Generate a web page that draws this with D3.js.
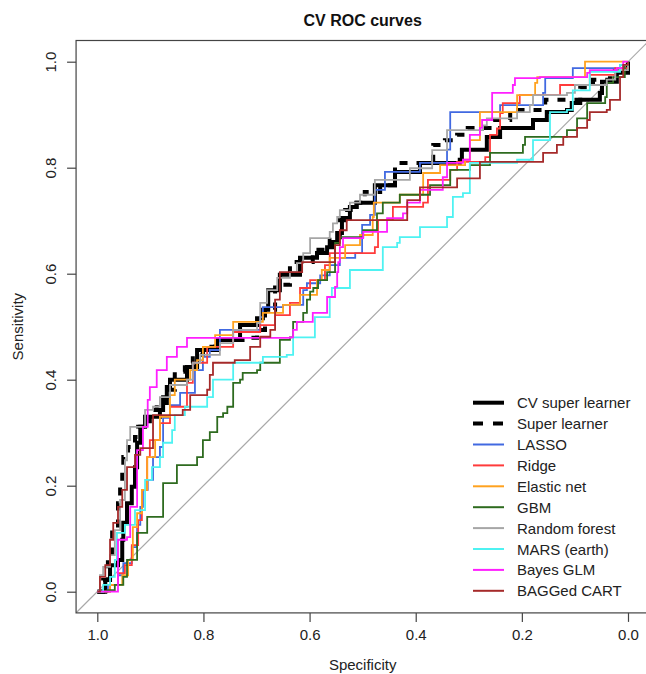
<!DOCTYPE html>
<html>
<head>
<meta charset="utf-8">
<script src="https://cdn.jsdelivr.net/npm/d3@7/dist/d3.min.js"></script>
<style>
  body { margin: 0; background: #fff; }
  text { font-family: "Liberation Sans", Arial, sans-serif; }
</style>
</head>
<body>
<div id="chart"></div>
<script>

// curves as [specificity, sensitivity] corner points
var cvSuperLearner = [[1,0],[0.985,0.022],[0.976,0.05],[0.961,0.06],[0.953,0.098],[0.951,0.13],[0.944,0.167],[0.935,0.198],[0.929,0.235],[0.925,0.281],[0.919,0.311],[0.91,0.33],[0.882,0.343],[0.876,0.367],[0.869,0.386],[0.863,0.4],[0.831,0.424],[0.812,0.456],[0.774,0.475],[0.731,0.503],[0.699,0.516],[0.688,0.532],[0.678,0.569],[0.656,0.598],[0.618,0.63],[0.586,0.639],[0.567,0.65],[0.556,0.66],[0.548,0.677],[0.539,0.705],[0.524,0.726],[0.511,0.734],[0.477,0.767],[0.439,0.792],[0.392,0.809],[0.317,0.815],[0.313,0.834],[0.266,0.858],[0.241,0.875],[0.19,0.875],[0.179,0.89],[0.153,0.905],[0.115,0.909],[0.106,0.922],[0.09,0.928],[0.053,0.941],[0.049,0.962],[0.021,0.979],[0,1]];

var superLearner = [[1,0],[0.989,0.022],[0.98,0.06],[0.972,0.116],[0.961,0.167],[0.957,0.198],[0.953,0.23],[0.951,0.254],[0.942,0.273],[0.929,0.292],[0.923,0.311],[0.901,0.343],[0.888,0.356],[0.869,0.381],[0.854,0.415],[0.835,0.432],[0.82,0.447],[0.801,0.462],[0.778,0.475],[0.718,0.479],[0.699,0.494],[0.684,0.532],[0.665,0.579],[0.637,0.622],[0.594,0.645],[0.562,0.664],[0.543,0.701],[0.533,0.72],[0.518,0.734],[0.496,0.754],[0.467,0.767],[0.439,0.809],[0.367,0.843],[0.345,0.852],[0.322,0.862],[0.302,0.875],[0.254,0.89],[0.222,0.909],[0.156,0.928],[0.09,0.952],[0.066,0.966],[0.034,0.984],[0,1]];

var lasso = [[1,0],[0.98,0.013],[0.961,0.031],[0.951,0.054],[0.935,0.084],[0.925,0.126],[0.919,0.16],[0.914,0.192],[0.905,0.211],[0.895,0.254],[0.882,0.273],[0.876,0.328],[0.863,0.352],[0.844,0.375],[0.816,0.418],[0.801,0.443],[0.788,0.456],[0.769,0.494],[0.693,0.518],[0.688,0.537],[0.65,0.541],[0.612,0.569],[0.605,0.582],[0.58,0.597],[0.562,0.616],[0.543,0.63],[0.514,0.639],[0.501,0.692],[0.486,0.711],[0.477,0.758],[0.458,0.792],[0.392,0.809],[0.341,0.834],[0.335,0.905],[0.254,0.905],[0.241,0.918],[0.16,0.941],[0.156,0.969],[0.104,0.988],[0.015,0.994],[0,1]];

var ridge = [[1,0],[0.976,0.013],[0.961,0.035],[0.948,0.05],[0.935,0.088],[0.923,0.135],[0.916,0.192],[0.906,0.254],[0.901,0.286],[0.882,0.318],[0.863,0.349],[0.831,0.394],[0.82,0.432],[0.793,0.462],[0.744,0.49],[0.693,0.503],[0.665,0.522],[0.637,0.545],[0.618,0.573],[0.599,0.588],[0.571,0.616],[0.562,0.639],[0.477,0.65],[0.471,0.701],[0.454,0.701],[0.443,0.726],[0.386,0.734],[0.377,0.777],[0.335,0.796],[0.322,0.811],[0.269,0.82],[0.26,0.862],[0.247,0.874],[0.241,0.903],[0.236,0.922],[0.204,0.937],[0.128,0.956],[0.072,0.975],[0.024,0.988],[0,1]];

var elasticNet = [[1,0],[0.976,0.013],[0.953,0.031],[0.942,0.06],[0.933,0.122],[0.925,0.148],[0.916,0.192],[0.906,0.254],[0.891,0.286],[0.882,0.33],[0.863,0.371],[0.854,0.4],[0.825,0.418],[0.812,0.437],[0.801,0.462],[0.778,0.484],[0.744,0.509],[0.693,0.509],[0.688,0.526],[0.65,0.541],[0.618,0.56],[0.586,0.588],[0.577,0.607],[0.562,0.63],[0.533,0.654],[0.505,0.673],[0.481,0.707],[0.479,0.734],[0.43,0.749],[0.386,0.79],[0.354,0.805],[0.307,0.815],[0.298,0.852],[0.279,0.905],[0.209,0.937],[0.175,0.96],[0.171,0.971],[0.09,0.971],[0.081,1],[0,1]];

var gbm = [[1,0],[0.981,0.003],[0.967,0.013],[0.951,0.028],[0.944,0.06],[0.925,0.111],[0.906,0.141],[0.882,0.141],[0.876,0.205],[0.85,0.205],[0.85,0.239],[0.82,0.239],[0.812,0.254],[0.801,0.286],[0.788,0.301],[0.774,0.33],[0.763,0.337],[0.755,0.349],[0.744,0.394],[0.731,0.4],[0.726,0.413],[0.699,0.418],[0.693,0.432],[0.656,0.45],[0.656,0.475],[0.637,0.48],[0.631,0.509],[0.612,0.526],[0.605,0.551],[0.599,0.566],[0.593,0.573],[0.584,0.588],[0.567,0.603],[0.552,0.658],[0.543,0.669],[0.499,0.682],[0.473,0.714],[0.462,0.734],[0.43,0.749],[0.373,0.767],[0.335,0.796],[0.298,0.805],[0.26,0.811],[0.26,0.828],[0.198,0.843],[0.194,0.858],[0.141,0.858],[0.115,0.871],[0.096,0.893],[0.077,0.922],[0.043,0.933],[0.04,0.96],[0.028,0.971],[0.006,0.994],[0,1]];

var randomForest = [[1,0],[0.995,0.031],[0.989,0.047],[0.976,0.069],[0.967,0.116],[0.957,0.173],[0.948,0.248],[0.944,0.286],[0.938,0.311],[0.91,0.343],[0.895,0.349],[0.882,0.367],[0.863,0.39],[0.831,0.4],[0.82,0.432],[0.806,0.447],[0.769,0.469],[0.744,0.494],[0.699,0.507],[0.693,0.545],[0.68,0.569],[0.661,0.592],[0.637,0.603],[0.624,0.62],[0.612,0.639],[0.599,0.667],[0.562,0.679],[0.556,0.695],[0.548,0.707],[0.543,0.72],[0.524,0.734],[0.505,0.749],[0.477,0.777],[0.411,0.799],[0.369,0.833],[0.341,0.871],[0.273,0.88],[0.266,0.893],[0.209,0.905],[0.185,0.918],[0.179,0.937],[0.115,0.941],[0.1,0.956],[0.04,0.966],[0.024,0.984],[0,1]];

var mars = [[1,0],[0.989,0.013],[0.976,0.028],[0.967,0.06],[0.963,0.111],[0.948,0.126],[0.929,0.154],[0.91,0.211],[0.897,0.235],[0.882,0.254],[0.876,0.281],[0.859,0.305],[0.854,0.333],[0.835,0.349],[0.793,0.367],[0.782,0.4],[0.744,0.4],[0.744,0.432],[0.688,0.443],[0.643,0.447],[0.631,0.48],[0.59,0.518],[0.562,0.556],[0.558,0.573],[0.524,0.607],[0.481,0.607],[0.462,0.65],[0.435,0.658],[0.43,0.669],[0.392,0.688],[0.341,0.707],[0.33,0.745],[0.311,0.752],[0.298,0.809],[0.209,0.815],[0.179,0.852],[0.147,0.905],[0.115,0.909],[0.104,0.946],[0.072,0.981],[0.015,0.994],[0,1]];

var bayesGlm = [[1,0],[0.961,0.003],[0.961,0.098],[0.944,0.103],[0.938,0.16],[0.925,0.267],[0.914,0.311],[0.905,0.362],[0.901,0.386],[0.888,0.418],[0.869,0.443],[0.85,0.462],[0.831,0.479],[0.637,0.48],[0.631,0.494],[0.624,0.509],[0.594,0.526],[0.567,0.556],[0.556,0.556],[0.552,0.575],[0.548,0.603],[0.546,0.622],[0.543,0.65],[0.537,0.667],[0.499,0.679],[0.454,0.684],[0.454,0.705],[0.424,0.714],[0.416,0.734],[0.392,0.758],[0.349,0.782],[0.341,0.809],[0.311,0.815],[0.298,0.862],[0.279,0.875],[0.275,0.89],[0.256,0.941],[0.217,0.956],[0.213,0.969],[0.166,0.971],[0.077,0.979],[0.072,0.984],[0.021,0.988],[0.009,1],[0,1]];

var baggedCart = [[1,0],[0.995,0.028],[0.985,0.05],[0.976,0.098],[0.97,0.13],[0.961,0.16],[0.953,0.192],[0.944,0.235],[0.929,0.258],[0.919,0.271],[0.895,0.333],[0.839,0.343],[0.825,0.371],[0.793,0.381],[0.788,0.409],[0.782,0.432],[0.741,0.437],[0.712,0.462],[0.693,0.481],[0.674,0.494],[0.665,0.551],[0.656,0.603],[0.614,0.622],[0.562,0.622],[0.552,0.654],[0.543,0.682],[0.53,0.701],[0.43,0.701],[0.416,0.739],[0.392,0.763],[0.322,0.78],[0.279,0.811],[0.166,0.811],[0.16,0.828],[0.134,0.843],[0.122,0.858],[0.096,0.875],[0.077,0.89],[0.072,0.905],[0.04,0.909],[0.034,0.928],[0.015,0.971],[0.009,0.994],[0,1]];

var curveNames = ["CV super learner", "Super learner", "LASSO", "Ridge", "Elastic net", "GBM", "Random forest", "MARS (earth)", "Bayes GLM", "BAGGed CART"];
var curveData = [cvSuperLearner, superLearner, lasso, ridge, elasticNet, gbm, randomForest, mars, bayesGlm, baggedCart];
var curveColors = ["#000000", "#000000", "#4169e1", "#ff3b3b", "#ffa21f", "#2e6b1f", "#a6a6a6", "#4ef2f2", "#ff1fff", "#a52a2a"];
var xTicks = [1.0, 0.8, 0.6, 0.4, 0.2, 0.0];
var yTicks = [0.0, 0.2, 0.4, 0.6, 0.8, 1.0];

(function() {

  var width = 646, height = 674;
  var axisColor = "#444";
  var fontFam = '"Liberation Sans", Arial, sans-serif';

  var svg = d3.select("#chart").append("svg")
      .attr("width", width)
      .attr("height", height);

  svg.append("rect")
    .attr("width", width)
    .attr("height", height)
    .attr("fill", "#fff");

  var x = d3.scaleLinear().domain([1, 0]).range([97.3, 628]);
  var y = d3.scaleLinear().domain([0, 1]).range([591.7, 61.7]);

  // R pads the range by 4% on every side
  var boxL = x(1.04), boxR = x(-0.04), boxT = y(1.04), boxB = y(-0.04);

  svg.append("clipPath").attr("id", "plotclip")
    .append("rect")
      .attr("x", boxL).attr("y", boxT)
      .attr("width", boxR - boxL).attr("height", boxB - boxT);

  var plot = svg.append("g").attr("clip-path", "url(#plotclip)");

  // chance line
  plot.append("line")
    .attr("x1", x(1.04)).attr("y1", y(-0.04))
    .attr("x2", x(-0.04)).attr("y2", y(1.04))
    .style("stroke", "#a8a8a8")
    .style("stroke-width", 1.2);

  var line = d3.line()
    .x(function(d) { return x(d[0]); })
    .y(function(d) { return y(d[1]); })
    .curve(d3.curveStepAfter);

  curveData.forEach(function(c, i) {
    plot.append("path")
      .attr("d", line(c))
      .style("fill", "none")
      .style("stroke", curveColors[i])
      .style("stroke-width", i < 2 ? 4 : 1.8)
      .style("stroke-dasharray", i == 1 ? "8,9" : null);
  });

  // frame
  svg.append("rect")
    .attr("x", boxL).attr("y", boxT)
    .attr("width", boxR - boxL).attr("height", boxB - boxT)
    .style("fill", "none")
    .style("stroke", axisColor)
    .style("stroke-width", 1.2);

  var xAxis = svg.append("g")
    .attr("transform", "translate(0," + boxB + ")")
    .call(d3.axisBottom(x).tickValues(xTicks).tickFormat(d3.format(".1f")).tickSize(9).tickPadding(7));
  xAxis.select(".domain").remove();
  xAxis.selectAll("line").style("stroke", axisColor).style("stroke-width", 1.2);
  xAxis.selectAll("text").style("font-size", "15px").style("fill", "#222")
    .style("font-family", fontFam);

  var yAxis = svg.append("g")
    .attr("transform", "translate(" + boxL + ",0)")
    .call(d3.axisLeft(y).tickValues(yTicks).tickFormat(d3.format(".1f")).tickSize(9));
  yAxis.select(".domain").remove();
  yAxis.selectAll("line").style("stroke", axisColor).style("stroke-width", 1.2);
  yAxis.selectAll("text")
    .attr("x", null).attr("dy", null)
    .attr("transform", "translate(-20,0) rotate(-90)")
    .style("text-anchor", "middle")
    .style("font-size", "15px").style("fill", "#222")
    .style("font-family", fontFam);

  svg.append("text")
    .attr("x", (boxL + boxR) / 2).attr("y", 26)
    .style("text-anchor", "middle")
    .style("font-size", "16px")
    .style("font-weight", "bold")
    .style("fill", "#111")
    .text("CV ROC curves");

  svg.append("text")
    .attr("x", (boxL + boxR) / 2).attr("y", 670)
    .style("text-anchor", "middle")
    .style("font-size", "15px")
    .style("fill", "#222")
    .text("Specificity");

  svg.append("text")
    .attr("transform", "translate(23," + (boxT + boxB) / 2 + ") rotate(-90)")
    .style("text-anchor", "middle")
    .style("font-size", "15px")
    .style("fill", "#222")
    .text("Sensitivity");

  // legend
  var legend = svg.append("g");
  curveNames.forEach(function(name, i) {
    var ly = 402.7 + i * 20.9;
    legend.append("line")
      .attr("x1", 473).attr("x2", 504)
      .attr("y1", ly).attr("y2", ly)
      .style("stroke", curveColors[i])
      .style("stroke-width", i < 2 ? 4 : 2)
      .style("stroke-dasharray", i == 1 ? "10,10" : null);
    legend.append("text")
      .attr("x", 517).attr("y", ly + 5.5)
      .style("font-size", "15px")
      .style("fill", "#222")
      .text(name);
  });

})();

</script>
</body>
</html>
